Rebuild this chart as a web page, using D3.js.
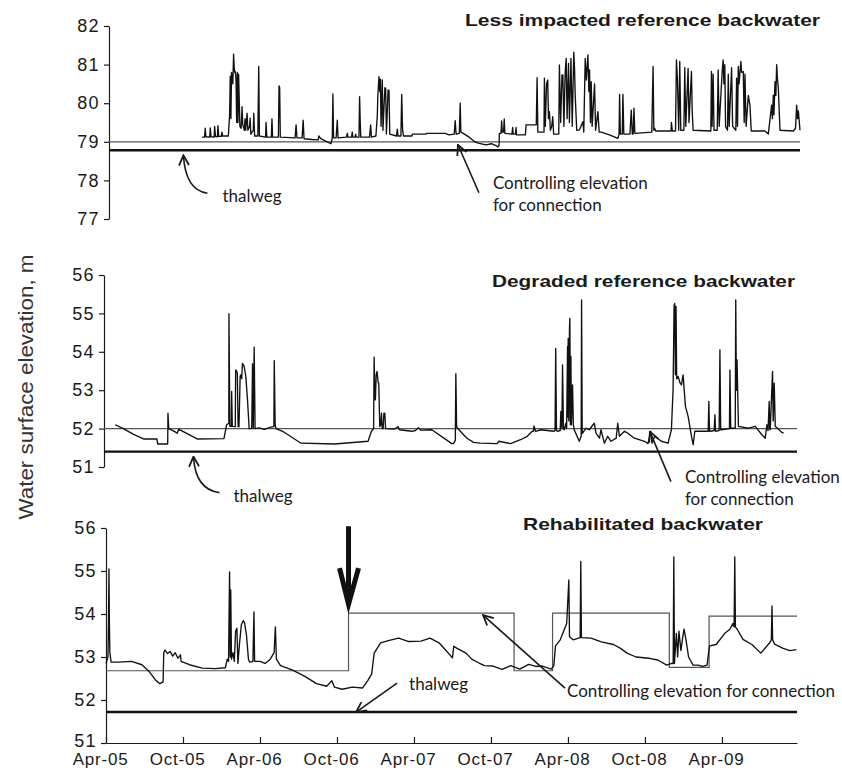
<!DOCTYPE html>
<html>
<head>
<meta charset="utf-8">
<script src="https://cdn.jsdelivr.net/npm/d3@7"></script>
<style>
  body { margin: 0; background: #fff; }
  svg text { font-family: "Liberation Sans", Arial, sans-serif; fill: #1a1a1a; }
  .axis text { font-size: 17px; letter-spacing: 0.8px; }
  .y.axis text { font-size: 18px; letter-spacing: 1.4px; }
  .axis path, .axis line { stroke: #1a1a1a; stroke-width: 1.2px; }
  .title { font-size: 16.5px; font-weight: bold; }
  .note { font-family: Lato, "Open Sans", sans-serif !important; font-size: 17px; }
  .y-label { font-size: 21px; fill: #333; }
</style>
</head>
<body>
<div class="chart-container"></div>
<script>
// x values are months since Apr-05
const tick_months = [0, 6, 12, 18, 24, 30, 36, 42, 48];
const tick_labels = ['Apr-05', 'Oct-05', 'Apr-06', 'Oct-06', 'Apr-07', 'Oct-07', 'Apr-08', 'Oct-08', 'Apr-09'];
const month_domain = [0, 53.85];

const panel_titles = ['Less impacted reference backwater', 'Degraded reference backwater', 'Rehabilitated backwater'];

// constant elevations (m)
const less_control = 79.0, less_thalweg = 78.78;
const degraded_control = 52.0, degraded_thalweg = 51.4;
const rehab_thalweg = 51.72;

// stepped controlling elevation of the rehabilitated backwater [month, m]
const rehab_control = [[0, 52.68], [18.9, 54.02], [31.8, 52.68], [34.8, 54.02], [43.9, 52.76], [47.0, 53.95], [53.85, 53.95]];

// water surface elevation [month, m]
const less_impacted = [
  [7.25,79.12],[7.45,79.12],[7.5,79.35],[7.55,79.13],[7.85,79.12],[7.89,79.36],[7.95,79.13],[8.2,79.12],[8.23,79.4],[8.3,79.14],
  [8.45,79.13],[8.49,79.42],[8.55,79.14],[8.75,79.14],[8.8,79.25],[8.85,79.15],[9.3,79.15],[9.4,79.7],[9.45,80.7],[9.5,79.6],
  [9.55,80.8],[9.65,80.5],[9.71,81.27],[9.76,80.9],[9.8,80.8],[9.84,80.82],[9.9,80.6],[9.95,79.5],[10.0,80.8],[10.05,79.5],
  [10.1,80.75],[10.2,79.4],[10.3,79.35],[10.37,79.91],[10.42,79.45],[10.55,79.3],[10.6,79.6],[10.65,79.3],[10.76,79.74],[10.82,79.3],
  [10.95,79.4],[11.0,79.61],[11.05,79.2],[11.25,79.3],[11.28,79.74],[11.35,79.15],[11.6,79.15],[11.67,80.95],[11.72,79.15],[12.2,79.12],
  [12.24,79.5],[12.3,79.12],[12.65,79.12],[12.7,79.59],[12.75,79.12],[13.2,79.12],[13.25,80.45],[13.3,80.4],[13.35,79.12],[14.5,79.1],
  [14.58,79.44],[14.65,79.1],[15.05,79.1],[15.13,79.56],[15.2,79.08],[15.8,79.06],[16.3,79.05],[16.35,79.15],[16.5,79.08],[17.0,79.0],
  [17.3,78.95],[17.4,79.1],[17.45,80.24],[17.5,79.1],[17.7,79.1],[17.79,79.56],[17.85,79.1],[18.5,79.12],[18.57,79.22],[18.62,79.12],
  [18.9,79.12],[18.96,79.25],[19.0,79.12],[19.18,79.12],[19.22,79.2],[19.27,79.12],[19.48,79.12],[19.53,80.17],[19.58,79.5],[19.62,79.12],
  [20.3,79.12],[20.39,79.44],[20.45,79.12],[20.8,79.15],[20.91,79.68],[20.95,80.2],[21.04,80.69],[21.1,80.3],[21.15,80.62],[21.2,79.4],
  [21.3,80.6],[21.35,79.3],[21.5,80.4],[21.56,80.39],[21.62,79.2],[21.75,80.34],[21.82,80.34],[21.88,79.2],[22.4,79.15],[22.47,79.33],
  [22.52,79.15],[22.75,79.15],[22.81,80.23],[22.88,79.3],[22.95,79.15],[23.6,79.15],[23.65,79.2],[24.7,79.2],[24.75,79.22],[26.2,79.22],
  [26.5,79.18],[26.9,79.2],[26.98,79.55],[27.05,79.2],[27.3,79.22],[27.37,80.0],[27.42,79.25],[27.6,79.22],[28.07,79.12],[28.5,79.0],
  [28.85,78.96],[29.38,78.92],[29.8,78.95],[30.16,78.9],[30.3,78.87],[30.4,78.9],[30.42,79.22],[30.55,79.22],[30.6,79.54],[30.65,79.25],
  [30.75,79.25],[30.8,79.59],[30.85,79.22],[31.4,79.2],[31.46,79.37],[31.5,79.2],[31.68,79.2],[31.72,79.37],[31.76,79.18],[32.45,79.18],
  [32.5,79.44],[33.3,79.44],[33.36,80.66],[33.42,79.25],[33.9,79.25],[33.93,80.65],[34.0,79.4],[34.1,80.5],[34.19,80.6],[34.25,79.6],
  [34.32,79.78],[34.4,79.3],[34.5,79.4],[34.58,79.65],[34.65,79.2],[35.05,79.2],[35.1,80.99],[35.2,79.5],[35.3,80.73],[35.37,80.73],
  [35.45,79.4],[35.55,80.8],[35.63,81.16],[35.7,79.6],[35.81,81.03],[35.88,79.5],[36.0,81.16],[36.1,79.4],[36.22,81.32],[36.28,80.9],
  [36.33,80.21],[36.45,79.3],[36.67,79.31],[36.93,79.52],[37.0,79.25],[37.11,81.16],[37.2,80.6],[37.32,81.25],[37.4,80.3],[37.45,80.86],
  [37.52,79.5],[37.58,80.56],[37.65,79.4],[37.84,80.5],[37.92,79.3],[38.1,79.78],[38.2,79.25],[38.36,79.25],[39.0,79.18],[39.66,79.09],
  [39.75,79.2],[39.79,80.23],[39.85,79.2],[40.0,79.2],[40.05,80.23],[40.12,79.2],[40.6,79.2],[40.7,79.82],[40.78,79.2],[40.85,79.2],
  [40.91,79.87],[40.98,79.22],[42.3,79.25],[42.4,80.95],[42.46,79.3],[42.52,79.35],[42.6,79.28],[43.8,79.28],[43.83,79.5],[43.9,79.28],
  [44.15,79.28],[44.22,81.12],[44.3,80.6],[44.4,79.3],[44.48,81.08],[44.56,79.3],[44.8,79.3],[44.87,80.92],[44.95,79.4],[45.13,80.9],
  [45.2,79.5],[45.39,80.82],[45.45,79.78],[45.52,79.3],[46.9,79.28],[46.95,80.82],[47.0,79.4],[47.08,80.75],[47.15,79.3],[47.4,79.3],
  [47.47,80.86],[47.55,79.4],[47.8,80.9],[47.86,81.12],[47.92,80.5],[47.99,81.0],[48.05,79.4],[48.2,79.3],[48.26,80.75],[48.33,79.4],
  [48.52,80.92],[48.6,79.4],[48.85,79.3],[48.91,80.65],[48.98,79.4],[49.04,80.95],[49.1,80.5],[49.24,81.08],[49.3,80.8],[49.43,80.82],
  [49.5,79.5],[49.56,80.75],[49.65,79.4],[49.82,80.2],[49.95,79.95],[50.05,79.28],[51.12,79.28],[51.38,79.2],[51.64,79.95],[51.7,79.6],
  [51.77,80.21],[51.82,79.7],[51.9,80.56],[51.97,80.2],[52.03,81.0],[52.1,80.6],[52.16,80.4],[52.29,79.3],[53.33,79.28],[53.5,79.35],
  [53.59,79.95],[53.66,79.6],[53.72,79.8],[53.85,79.3]
];

const degraded = [
  [0.86,52.1],[1.5,52.0],[2.3,51.85],[3.07,51.73],[4.11,51.73],[4.17,51.6],[4.95,51.6],[4.97,52.4],[5.03,52.0],[5.5,51.92],
  [5.68,51.88],[5.81,51.98],[5.94,51.96],[7.24,51.73],[9.32,51.74],[9.53,52.1],[9.7,52.14],[9.71,54.99],[9.78,52.06],[9.9,52.06],
  [9.92,52.97],[9.97,52.06],[10.2,52.05],[10.23,53.53],[10.3,53.5],[10.36,53.44],[10.42,52.05],[10.49,52.05],[10.58,53.36],[10.63,53.4],
  [10.7,53.3],[10.76,53.7],[10.89,53.62],[10.95,53.5],[11.02,53.36],[11.15,52.75],[11.28,52.0],[11.48,52.0],[11.54,53.69],[11.6,52.0],
  [11.67,54.12],[11.74,52.0],[12.06,52.02],[12.45,51.98],[12.97,52.04],[13.2,52.05],[13.23,53.77],[13.3,52.1],[13.36,52.0],[13.88,51.93],
  [15.31,51.62],[17.92,51.6],[20.52,51.67],[20.78,51.93],[20.95,52.0],[20.99,53.86],[21.05,52.8],[21.09,52.75],[21.15,53.4],[21.22,53.49],
  [21.3,53.2],[21.35,53.18],[21.43,52.05],[21.5,52.1],[21.56,52.4],[21.62,52.0],[21.69,52.0],[21.75,52.4],[21.82,52.4],[21.88,52.0],
  [22.6,51.99],[22.86,52.05],[22.95,51.97],[23.91,51.93],[24.2,51.95],[24.43,52.02],[24.6,51.96],[25.47,51.97],[27.03,51.61],[27.16,51.61],
  [27.3,51.7],[27.34,53.43],[27.4,52.05],[27.47,52.01],[28.2,51.75],[28.72,51.64],[29.24,51.62],[30.55,51.61],[30.68,51.67],[31.59,51.61],
  [32.37,51.71],[32.89,51.8],[33.28,51.93],[33.38,51.93],[33.41,52.07],[33.54,51.93],[33.93,51.97],[34.97,51.93],[35.05,51.95],[35.1,54.09],
  [35.16,51.95],[35.23,51.93],[35.45,51.95],[35.5,52.45],[35.58,52.0],[35.63,53.66],[35.7,52.0],[35.76,51.97],[35.89,52.14],[35.95,52.0],
  [36.02,54.14],[36.05,52.3],[36.07,54.35],[36.12,52.2],[36.17,54.6],[36.2,54.87],[36.24,52.1],[36.28,53.88],[36.32,52.1],[36.41,53.14],
  [36.47,52.1],[36.54,51.97],[36.93,51.67],[37.08,51.8],[37.11,55.35],[37.16,51.88],[37.19,51.88],[37.45,52.01],[37.71,51.97],[38.0,52.1],
  [38.1,52.14],[38.23,51.88],[38.5,51.75],[38.62,51.97],[38.88,51.62],[39.14,51.8],[39.4,51.67],[39.8,51.75],[39.92,52.14],[40.05,51.8],
  [40.44,51.93],[40.7,51.88],[41.22,51.75],[42.0,51.67],[42.27,51.61],[42.48,51.93],[42.58,51.62],[42.79,51.8],[43.31,51.67],[43.83,51.62],
  [44.09,51.97],[44.22,53.01],[44.3,55.2],[44.35,55.26],[44.4,53.4],[44.45,55.18],[44.5,53.3],[44.56,53.31],[44.61,53.36],[44.75,53.2],
  [44.87,53.14],[45.0,53.4],[45.18,52.58],[45.39,52.32],[45.65,51.8],[45.78,51.58],[45.91,51.93],[46.95,51.93],[47.0,52.71],[47.05,51.93],
  [47.1,51.93],[47.42,51.95],[47.47,52.36],[47.52,51.93],[47.8,51.95],[47.86,54.05],[47.92,51.97],[47.99,51.97],[48.6,52.0],[48.64,53.53],
  [48.7,52.0],[48.77,52.01],[49.05,52.01],[49.09,55.35],[49.14,53.0],[49.19,53.79],[49.3,52.06],[50.08,52.01],[50.6,52.06],[51.12,51.84],
  [51.38,51.75],[51.51,52.1],[51.6,51.95],[51.69,52.71],[51.73,52.0],[51.77,51.97],[51.95,53.49],[52.0,52.2],[52.08,53.18],[52.16,52.06],
  [52.68,51.9],[52.81,51.88]
];

const rehabilitated = [
  [0.0,52.85],[0.15,53.0],[0.2,53.85],[0.23,55.05],[0.26,53.85],[0.3,53.1],[0.4,52.88],[1.0,52.88],[2.0,52.9],[2.8,52.82],
  [3.4,52.65],[3.9,52.45],[4.2,52.38],[4.45,52.42],[4.5,53.1],[4.6,53.16],[4.8,53.08],[5.0,53.13],[5.2,53.02],[5.4,53.1],
  [5.6,52.97],[5.8,53.05],[5.85,52.9],[6.5,52.82],[7.5,52.74],[8.5,52.73],[9.3,52.75],[9.45,52.95],[9.55,52.9],[9.63,54.98],
  [9.68,53.0],[9.72,54.56],[9.78,52.95],[9.9,53.1],[10.0,52.9],[10.1,53.6],[10.2,53.67],[10.28,52.85],[10.4,53.3],[10.55,53.75],
  [10.7,53.85],[10.8,53.79],[10.95,53.5],[11.1,52.95],[11.2,52.88],[11.45,52.9],[11.53,54.05],[11.58,52.9],[12.0,52.9],[12.4,52.85],
  [12.8,52.95],[13.1,53.1],[13.2,53.7],[13.28,52.95],[13.6,52.8],[14.5,52.7],[15.5,52.55],[16.4,52.38],[17.2,52.32],[17.6,52.45],
  [17.8,52.3],[18.4,52.25],[19.2,52.3],[20.0,52.28],[20.4,52.45],[20.7,52.6],[20.9,53.09],[21.4,53.33],[22.0,53.38],[22.8,53.44],
  [23.6,53.36],[24.55,53.37],[25.25,53.44],[25.95,53.33],[26.5,53.15],[27.0,52.98],[27.1,53.25],[27.36,53.2],[28.06,53.09],[28.5,52.95],
  [29.07,52.86],[29.5,52.8],[30.15,52.79],[30.87,52.71],[31.55,52.8],[32.24,52.72],[32.94,52.83],[33.5,52.78],[34.0,52.79],[34.7,52.72],
  [34.9,52.8],[35.03,53.26],[35.4,53.4],[35.9,53.78],[36.07,54.79],[36.12,53.47],[36.4,53.4],[36.95,53.45],[37.0,55.22],[37.05,53.45],
  [37.8,53.44],[38.6,53.35],[39.55,53.29],[40.1,53.2],[40.6,53.09],[41.3,53.0],[42.33,52.97],[43.0,52.93],[43.7,52.81],[44.07,52.85],
  [44.2,52.85],[44.25,55.33],[44.3,52.85],[44.45,53.55],[44.55,53.0],[44.65,53.6],[44.8,53.15],[44.95,53.47],[45.05,53.65],[45.2,53.4],
  [45.4,53.0],[45.75,52.81],[46.14,52.81],[46.5,52.78],[46.84,52.81],[47.03,53.26],[47.55,53.29],[48.25,53.56],[48.6,53.64],[48.87,53.78],
  [48.95,53.7],[49.0,55.33],[49.05,53.7],[49.2,53.64],[49.64,53.41],[50.33,53.29],[51.03,53.09],[51.72,53.33],[51.85,53.4],[51.9,54.19],
  [51.95,53.4],[52.1,53.3],[52.77,53.2],[53.3,53.15],[53.8,53.17]
];

const svg_width = 842;
const svg_height = 776;

const svg = d3.select('.chart-container')
  .append('svg')
  .attr('width', svg_width)
  .attr('height', svg_height);

// open V arrow head
svg.append('defs').append('marker')
  .attr('id', 'vhead')
  .attr('viewBox', '0 0 12 12')
  .attr('refX', 11).attr('refY', 6)
  .attr('markerWidth', 12).attr('markerHeight', 12)
  .attr('markerUnits', 'userSpaceOnUse')
  .attr('orient', 'auto')
  .append('path')
  .attr('d', 'M1,1 L11,6 L1,11')
  .attr('fill', 'none')
  .attr('stroke', '#1a1a1a')
  .attr('stroke-width', 1.8);

const make_line = (x, y) => d3.line().x(d => x(d[0])).y(d => y(d[1]));

function draw_panel(p) {
  const x = d3.scaleLinear().domain(month_domain).range([p.left, p.right]);
  const y = d3.scaleLinear().domain(p.y_domain).range([p.bottom, p.top]);
  const g = svg.append('g');

  // y axis
  const y_axis = g.append('g')
    .attr('class', 'y axis')
    .attr('transform', `translate(${p.left},0)`)
    .call(d3.axisLeft(y).ticks(5).tickFormat(d3.format('d')).tickSize(5).tickSizeOuter(0).tickPadding(4));
  // the lowest label of the bottom panel sits just above the date labels
  if (p.lift_lowest) {
    y_axis.selectAll('text').filter(d => d === p.y_domain[0]).attr('dy', '0.2em');
  }

  // controlling elevation
  const control_data = p.control_steps || [[month_domain[0], p.control], [month_domain[1], p.control]];
  g.append('path')
    .datum(control_data)
    .attr('d', make_line(x, y).curve(p.control_steps ? d3.curveStepAfter : d3.curveLinear))
    .attr('fill', 'none')
    .attr('stroke', '#555')
    .attr('stroke-width', 1.2);

  // thalweg
  g.append('path')
    .datum([[month_domain[0], p.thalweg], [month_domain[1], p.thalweg]])
    .attr('d', make_line(x, y))
    .attr('fill', 'none')
    .attr('stroke', '#111')
    .attr('stroke-width', 2.4);

  // water surface
  g.append('path')
    .datum(p.series)
    .attr('d', make_line(x, y))
    .attr('fill', 'none')
    .attr('stroke', '#111')
    .attr('stroke-width', 1.35)
    .attr('stroke-linejoin', 'round');

  // title
  g.append('text')
    .attr('class', 'title')
    .attr('x', p.title_x)
    .attr('y', p.title_y)
    .attr('textLength', p.title_w)
    .attr('lengthAdjust', 'spacingAndGlyphs')
    .text(p.title);

  return {g, x, y};
}

// notes: arrow from tail to tip (optional curve control), text lines next to the tail
function note(g, tip, tail, ctrl, lines, text_pos) {
  const d = ctrl
    ? `M${tail[0]},${tail[1]} Q${ctrl[0]},${ctrl[1]} ${tip[0]},${tip[1]}`
    : `M${tail[0]},${tail[1]} L${tip[0]},${tip[1]}`;
  g.append('path')
    .attr('d', d)
    .attr('fill', 'none')
    .attr('stroke', '#1a1a1a')
    .attr('stroke-width', 1.6)
    .attr('marker-end', 'url(#vhead)');
  lines.forEach((t, i) => {
    g.append('text')
      .attr('class', 'note')
      .attr('x', text_pos[0])
      .attr('y', text_pos[1] + i * 22)
      .text(t);
  });
}

// panel 1
const p1 = draw_panel({
  title: panel_titles[0], series: less_impacted, y_domain: [77, 82],
  control: less_control, thalweg: less_thalweg,
  left: 109, right: 800, top: 26, bottom: 219,
  title_x: 465, title_y: 26, title_w: 355
});
{
  const tx = p1.x(5.8), ty = p1.y(less_thalweg) + 5;
  note(p1.g, [tx, ty], [tx + 24, ty + 38], [tx + 2, ty + 35], ['thalweg'], [tx + 39, ty + 47]);
  const cx = p1.x(27.19), cy = p1.y(less_control) + 3;
  note(p1.g, [cx, cy], [cx + 21, cy + 48], null, ['Controlling elevation', 'for connection'], [cx + 35, cy + 44]);
}

// panel 2
const p2 = draw_panel({
  title: panel_titles[1], series: degraded, y_domain: [51, 56],
  control: degraded_control, thalweg: degraded_thalweg,
  left: 104, right: 797, top: 275, bottom: 467,
  title_x: 492, title_y: 287, title_w: 303
});
{
  const tx = p2.x(6.95), ty = p2.y(degraded_thalweg) + 5;
  note(p2.g, [tx, ty], [tx + 26, ty + 36], [tx + 2, ty + 33], ['thalweg'], [tx + 40, ty + 45]);
  const cx = p2.x(42.42), cy = p2.y(degraded_control) + 3;
  note(p2.g, [cx, cy], [cx + 21, cy + 50], null, ['Controlling elevation', 'for connection'], [cx + 35, cy + 51]);
}

// panel 3
const p3 = draw_panel({
  title: panel_titles[2], series: rehabilitated, y_domain: [51, 56],
  control_steps: rehab_control, thalweg: rehab_thalweg,
  left: 106, right: 797, top: 528, bottom: 743,
  title_x: 523, title_y: 530, title_w: 240, lift_lowest: true
});
{
  // x axis only on the bottom panel, ticks pointing inward
  const x_axis = p3.g.append('g')
    .attr('class', 'x axis')
    .attr('transform', `translate(0,${p3.y(51)})`)
    .call(d3.axisBottom(p3.x).tickValues(tick_months).tickFormat((d, i) => tick_labels[i])
      .tickSize(-6).tickSizeOuter(0).tickPadding(10));
  x_axis.selectAll('text').attr('dx', '-0.35em');

  const tx = p3.x(19.49), ty = p3.y(rehab_thalweg);
  note(p3.g, [tx, ty], [tx + 41, ty - 29], null, ['thalweg'], [tx + 53, ty - 22]);
  const cx = p3.x(29.38), cy = p3.y(54.02) + 2;
  note(p3.g, [cx, cy], [cx + 82, cy + 73], null, ['Controlling elevation for connection'], [cx + 84, cy + 82]);

  // bold arrow marking the rehabilitation
  const bx = p3.x(18.9), by = p3.y(54.02) - 9;
  p3.g.append('path')
    .attr('d', `M${bx},${by - 78} L${bx},${by - 4} M${bx - 9},${by - 36} L${bx},${by} L${bx + 10},${by - 36}`)
    .attr('fill', 'none')
    .attr('stroke', '#111')
    .attr('stroke-width', 5)
    .attr('stroke-linejoin', 'miter');
}

// shared y axis label
svg.append('text')
  .attr('class', 'y-label')
  .attr('transform', 'translate(33,387) rotate(-90)')
  .attr('text-anchor', 'middle')
  .attr('textLength', 265)
  .attr('lengthAdjust', 'spacingAndGlyphs')
  .text('Water surface elevation, m');
</script>
</body>
</html>
